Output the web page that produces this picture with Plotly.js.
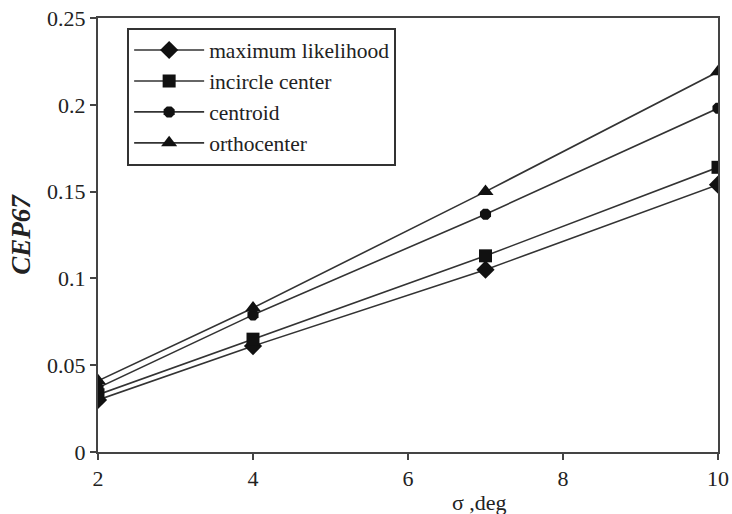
<!DOCTYPE html>
<html><head><meta charset="utf-8">
<script src="https://cdn.plot.ly/plotly-3.0.1.min.js"></script>
<style>html,body{margin:0;padding:0;background:#fff}#chart{width:732px;height:514px}</style>
</head><body><div id="chart"></div>
<script>
const sigma = [2, 4, 7, 10];
const seriesNames = ["maximum likelihood", "incircle center", "centroid", "orthocenter"];
const maxLikelihood = [0.030, 0.061, 0.105, 0.154];
const incircleCenter = [0.033, 0.065, 0.113, 0.164];
const centroid = [0.037, 0.079, 0.137, 0.198];
const orthocenter = [0.041, 0.083, 0.150, 0.219];
const xTicks = [2, 4, 6, 8, 10];
const yTicks = [0, 0.05, 0.1, 0.15, 0.2, 0.25];
const yTickText = ["0", "0.05", "0.1", "0.15", "0.2", "0.25"];
const xTitle = "σ ,deg";
const yTitle = "<b><i>CEP67</i></b>";

const symbols = ["diamond", "square", "octagon", "triangle-up"];
const sizes = [14, 13, 12, 14];
const values = [maxLikelihood, incircleCenter, centroid, orthocenter];
const traces = values.map((v, i) => ({
  x: sigma, y: v, name: seriesNames[i], type: "scatter", mode: "lines+markers",
  line: {color: "#333", width: 1.6},
  marker: {symbol: symbols[i], size: sizes[i], color: "#111"}
}));

const serif = "Liberation Serif";
const layout = {
  width: 732, height: 514,
  margin: {l: 98, r: 14, t: 18, b: 62},
  paper_bgcolor: "#fff", plot_bgcolor: "#fff",
  font: {family: serif, size: 20, color: "#222"},
  showlegend: true,
  legend: {x: 0.047, y: 0.978, xanchor: "left", yanchor: "top",
    bordercolor: "#333", borderwidth: 2, bgcolor: "#fff", itemwidth: 70,
    entrywidth: 288, entrywidthmode: "pixels",
    font: {family: serif, size: 21.5, color: "#222"}, tracegroupgap: 0},
  xaxis: {range: [2, 10], tickvals: xTicks, ticks: "outside", ticklen: 6, tickwidth: 2, tickcolor: "#444",
    showline: true, linecolor: "#444", linewidth: 2, mirror: true, showgrid: false, zeroline: false,
    tickfont: {family: serif, size: 22, color: "#222"}},
  yaxis: {range: [0, 0.25], tickvals: yTicks, ticktext: yTickText, ticks: "outside", ticklen: 6, tickwidth: 2, tickcolor: "#444",
    showline: true, linecolor: "#444", linewidth: 2, mirror: true, showgrid: false, zeroline: false,
    tickfont: {family: serif, size: 22, color: "#222"},
    title: {text: yTitle, font: {family: serif, size: 27, color: "#222"}, standoff: 9}},
  annotations: [{text: xTitle, xref: "paper", yref: "paper", x: 0.616, y: 0, yshift: -50,
    xanchor: "center", yanchor: "middle", showarrow: false,
    font: {family: serif, size: 22, color: "#222"}}]
};
Plotly.newPlot("chart", traces, layout, {displayModeBar: false, staticPlot: true});
</script></body></html>
